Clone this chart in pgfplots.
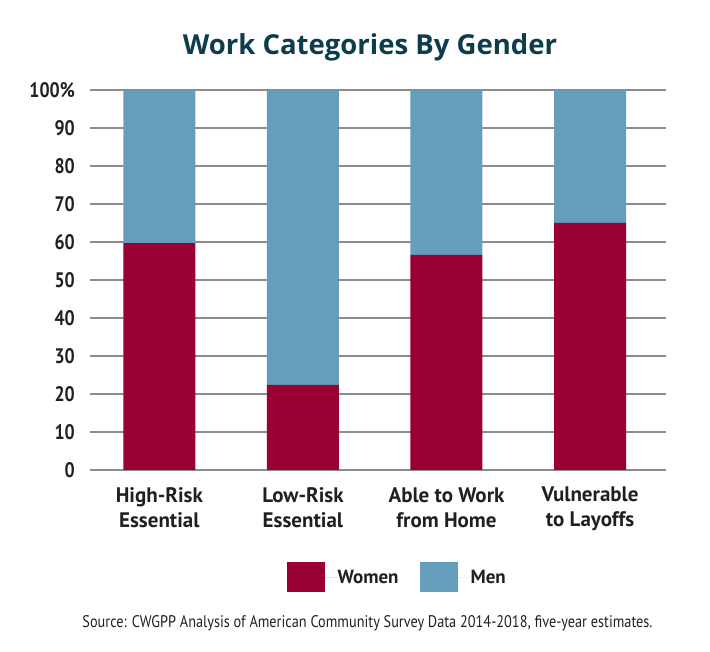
\documentclass[border=0pt]{standalone}
\usepackage{fontspec}
\setmainfont{PT Sans}
\newfontfamily\condfont[FakeStretch=0.85]{PT Sans}
\newfontfamily\titlefont{Open Sans}
\usepackage{pgfplots}
\pgfplotsset{compat=1.18}
\definecolor{women}{HTML}{990033}
\definecolor{men}{HTML}{659DBD}
\definecolor{titlec}{HTML}{0D3D4C}
\definecolor{txt}{HTML}{231F20}
\definecolor{gridc}{HTML}{8C8C8C}
\begin{document}
\begin{tikzpicture}
\path[use as bounding box] (-90pt,-182pt) rectangle (620pt,470pt);
\begin{axis}[
  at={(0pt,0pt)}, anchor=south west,
  scale only axis, width=576pt, height=380pt,
  ybar stacked, bar width=72pt,
  xmin=-0.483, xmax=3.529, ymin=0, ymax=100,
  xtick={0,1,2,3},
  xticklabels={High-Risk\\Essential, Low-Risk\\Essential, Able to Work\\from Home, Vulnerable\\to Layoffs},
  xticklabel style={align=center, anchor=north, inner sep=0pt, yshift=-17pt, font=\fontsize{21}{25}\selectfont\bfseries, text=txt},
  ytick={0,10,...,100},
  yticklabels={0,10,20,30,40,50,60,70,80,90,100\%},
  yticklabel style={anchor=east, inner sep=0pt, xshift=-15pt, font=\condfont\fontsize{21}{25}\selectfont\bfseries, text=txt},
  /pgf/number format/assume math mode=true,
  axis line style={draw=none},
  major tick length=0pt,
  ymajorgrids, grid style={gridc, line width=1.5pt},
  legend columns=2,
  legend style={draw=none, at={(axis description cs:0.3415,-0.2816)}, anchor=west, inner sep=0pt, outer sep=0pt,
    font=\fontsize{19}{22}\selectfont\bfseries, text=txt,
    /tikz/every even column/.append style={column sep=21pt},
    nodes={inner sep=0pt, outer sep=0pt, text depth=0pt}},
  legend image code/.code={\fill[#1] (0pt,-15pt) rectangle (38pt,15pt); \path (0pt,0pt) -- (51pt,0pt);},
]
\addplot[fill=women, draw=none] coordinates {(0,59.7) (1,22.4) (2,56.6) (3,65.0)};
\addplot[fill=men, draw=none] coordinates {(0,40.3) (1,77.6) (2,43.4) (3,35.0)};
\legend{Women, Men}
\end{axis}
\node[anchor=base, text=titlec, font=\titlefont\fontsize{27.5}{32}\selectfont\bfseries] at (280pt,415.7pt) {Work Categories By Gender};
\node[anchor=base, text=txt, font=\condfont\fontsize{16.8}{20}\selectfont] at (277.5pt,-158pt) {Source: CWGPP Analysis of American Community Survey Data 2014-2018, five-year estimates.};
\end{tikzpicture}
\end{document}
